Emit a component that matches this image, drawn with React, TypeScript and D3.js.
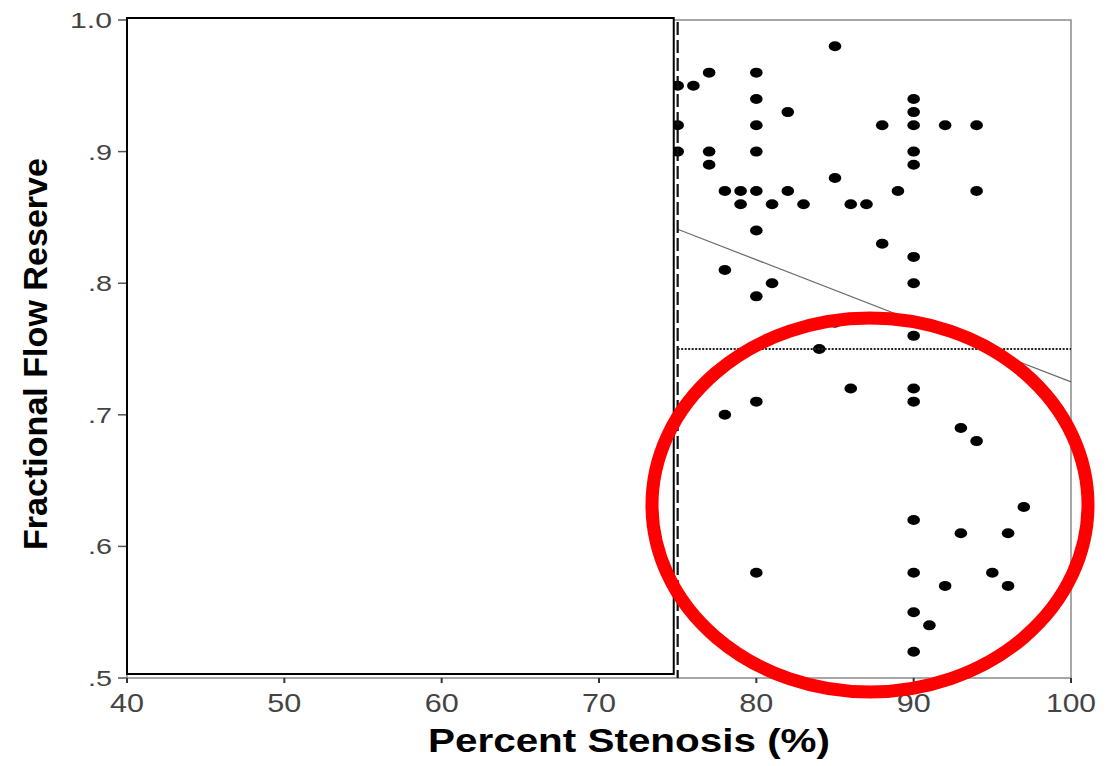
import React from "react";
import * as d3 from "d3";

const stenosis = [85,77,80,75,76,80,90,82,90,75,80,88,90,92,94,75,77,80,90,77,90,85,78,79,80,82,89,94,79,81,83,86,87,80,88,90,78,81,90,80,85,90,84,86,90,80,90,78,93,94,97,90,93,96,80,90,95,92,96,90,91,90];
const ffr = [0.98,0.96,0.96,0.95,0.95,0.94,0.94,0.93,0.93,0.92,0.92,0.92,0.92,0.92,0.92,0.90,0.90,0.90,0.90,0.89,0.89,0.88,0.87,0.87,0.87,0.87,0.87,0.87,0.86,0.86,0.86,0.86,0.86,0.84,0.83,0.82,0.81,0.80,0.80,0.79,0.77,0.76,0.75,0.72,0.72,0.71,0.71,0.70,0.69,0.68,0.63,0.62,0.61,0.61,0.58,0.58,0.58,0.57,0.57,0.55,0.54,0.52];

const xTicks = [40, 50, 60, 70, 80, 90, 100];
const yTicks = [1.0, 0.9, 0.8, 0.7, 0.6, 0.5];
const yTickLabels = ["1.0", ".9", ".8", ".7", ".6", ".5"];

const regressionX = [75, 100];
const regressionY = [0.841, 0.725];
const stenosisCutoff = 75;
const ffrCutoff = 0.75;
const hiddenRange = [40, 74.75];

const xTitle = "Percent Stenosis (%)";
const yTitle = "Fractional Flow Reserve";

export default function App() {
  const W = 1106, H = 766;
  const x = d3.scaleLinear().domain([40, 100]).range([127, 1071]);
  const y = d3.scaleLinear().domain([0.5, 1.0]).range([678, 20]);
  const line = d3.line<number>().x((d) => x(regressionX[d])).y((d) => y(regressionY[d]));
  const pts = stenosis.map((s, i) => ({ s, f: ffr[i] }));

  return (
    <div style={{ position: "fixed", left: 0, top: 0, background: "#fff" }}>
      <svg width={W} height={H} style={{ display: "block", fontFamily: "'Liberation Sans', Arial, sans-serif" }}>
        <rect x={0} y={0} width={W} height={H} fill="#fff" />
        {/* plot frame */}
        <rect x={x(40)} y={y(1.0)} width={x(100) - x(40)} height={y(0.5) - y(1.0)} fill="none" stroke="#8a8a8a" strokeWidth={1.5} />
        {/* x ticks */}
        {xTicks.map((t) => (
          <g key={"xt" + t}>
            <line x1={x(t)} x2={x(t)} y1={y(0.5)} y2={y(0.5) + 5} stroke="#333" strokeWidth={2} />
            <text x={x(t)} y={712} textAnchor="middle" fontSize={25} fill="#444"
              textLength={String(t).length === 3 ? 50 : 34} lengthAdjust="spacingAndGlyphs">{t}</text>
          </g>
        ))}
        {/* y ticks */}
        {yTicks.map((t, i) => (
          <g key={"yt" + t}>
            <line x1={x(40) - 9} x2={x(40)} y1={y(t)} y2={y(t)} stroke="#555" strokeWidth={1.5} />
            <text x={112} y={y(t) + 8} textAnchor="end" fontSize={22} fill="#444"
              textLength={yTickLabels[i].length === 3 ? 42 : 24} lengthAdjust="spacingAndGlyphs">{yTickLabels[i]}</text>
          </g>
        ))}
        {/* regression line */}
        <path d={line([0, 1]) || ""} fill="none" stroke="#6a6a6a" strokeWidth={1.2} />
        {/* points */}
        {pts.map((p, i) => (
          <ellipse key={"p" + i} cx={x(p.s)} cy={y(p.f)} rx={6.3} ry={5} fill="#000" />
        ))}
        {/* cutoff lines */}
        <line x1={x(stenosisCutoff)} x2={x(stenosisCutoff)} y1={y(1.0) + 2} y2={y(0.5)} stroke="#111" strokeWidth={2.2} strokeDasharray="13,5" />
        <line x1={x(stenosisCutoff)} x2={x(100)} y1={y(ffrCutoff)} y2={y(ffrCutoff)} stroke="#222" strokeWidth={2.2} strokeDasharray="2,1.5" />
        {/* redaction box */}
        <rect x={x(hiddenRange[0])} y={18} width={x(hiddenRange[1]) - x(hiddenRange[0])} height={656} fill="#fff" stroke="#000" strokeWidth={2} />
        {/* red ellipse */}
        <ellipse cx={870} cy={505} rx={218} ry={187} fill="none" stroke="#ff0000" strokeWidth={13} />
        {/* titles */}
        <text x={629} y={752} textAnchor="middle" fontSize={33} fontWeight="bold" fill="#000"
          textLength={402} lengthAdjust="spacingAndGlyphs">{xTitle}</text>
        <text transform="translate(47,354) rotate(-90)" textAnchor="middle" fontSize={33} fontWeight="bold" fill="#000"
          textLength={392} lengthAdjust="spacingAndGlyphs">{yTitle}</text>
      </svg>
    </div>
  );
}
